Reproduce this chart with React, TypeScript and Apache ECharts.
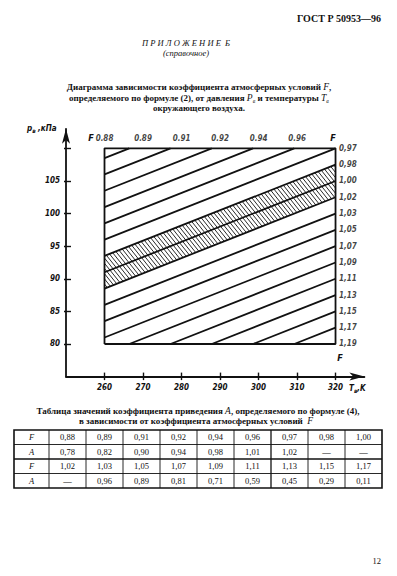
import React, { useEffect, useRef } from "react";
import * as echarts from "echarts";

// ---- diagram data ----
const F_LINES = ["0.88", "0.89", "0.91", "0.92", "0.94", "0.96", "0,97", "0,98", "1,00", "1,02", "1,03", "1,05", "1,07", "1,09", "1,11", "1,13", "1,15", "1,17", "1,19"];
// pressure (kPa) of each constant-F line at T = 260 K and T = 320 K (extended past the frame)
const P_AT_260 = [111, 108.5, 106, 103.5, 101, 98.5, 96, 93.5, 91, 88.5, 86, 83.5, 81, 78.5, 76, 73.5, 71, 68.5, 66];
const P_AT_320 = [125, 122.5, 120, 117.5, 115, 112.5, 110, 107.5, 105, 102.5, 100, 97.5, 95, 92.5, 90, 87.5, 85, 82.5, 80];
const HATCH_UPPER = 7; // F = 0,98
const HATCH_LOWER = 9; // F = 1,02
const BOX_T = [260, 320];
const BOX_P = [80, 110];
const T_TICKS = [260, 270, 280, 290, 300, 310, 320];
const P_TICKS = [80, 85, 90, 95, 100, 105, 110];
const P_LABELS = [80, 85, 90, 95, 100, 105];
const TOP_LABELS = ["0.88", "0.89", "0.91", "0.92", "0.94", "0.96"];
const TOP_LABEL_T = [260, 270, 280, 290, 300, 310];
const RIGHT_LABELS = ["0,97", "0,98", "1,00", "1,02", "1,03", "1,05", "1,07", "1,09", "1,11", "1,13", "1,15", "1,17", "1,19"];
const RIGHT_LABEL_P = [110, 107.5, 105, 102.5, 100, 97.5, 95, 92.5, 90, 87.5, 85, 82.5, 80];

// ---- table data ----
const TABLE_F1 = ["0,88", "0,89", "0,91", "0,92", "0,94", "0,96", "0,97", "0,98", "1,00"];
const TABLE_A1 = ["0,78", "0,82", "0,90", "0,94", "0,98", "1,01", "1,02", "—", "—"];
const TABLE_F2 = ["1,02", "1,03", "1,05", "1,07", "1,09", "1,11", "1,13", "1,15", "1,17"];
const TABLE_A2 = ["—", "0,96", "0,89", "0,81", "0,71", "0,59", "0,45", "0,29", "0,11"];
const TABLE_ROW_HEAD = ["F", "A", "F", "A"];

const INK = "#111";
const TECH = "'DejaVu Sans Condensed', 'DejaVu Sans', sans-serif";
const SERIF = "'Liberation Serif', 'DejaVu Serif', serif";

function lineP(i: number, T: number) {
  return P_AT_260[i] + ((P_AT_320[i] - P_AT_260[i]) * (T - BOX_T[0])) / (BOX_T[1] - BOX_T[0]);
}

function clipPoly(poly: number[][], f: (p: number[]) => number) {
  const out: number[][] = [];
  for (let i = 0; i < poly.length; i++) {
    const a = poly[i];
    const b = poly[(i + 1) % poly.length];
    const fa = f(a);
    const fb = f(b);
    if (fa >= 0) out.push(a);
    if (fa >= 0 !== fb >= 0) {
      const t = fa / (fa - fb);
      out.push([a[0] + t * (b[0] - a[0]), a[1] + t * (b[1] - a[1])]);
    }
  }
  return out;
}

function segmentInBox(i: number) {
  const s = (P_AT_320[i] - P_AT_260[i]) / (BOX_T[1] - BOX_T[0]);
  const tAt = (p: number) => BOX_T[0] + (p - P_AT_260[i]) / s;
  const t0 = Math.max(BOX_T[0], tAt(BOX_P[0]));
  const t1 = Math.min(BOX_T[1], tAt(BOX_P[1]));
  if (t1 - t0 < 0.05) return null;
  return [
    [t0, lineP(i, t0)],
    [t1, lineP(i, t1)],
  ];
}

const techLabel = {
  fontFamily: TECH,
  fontStyle: "italic" as const,
  fontWeight: "bold" as const,
  fontSize: 8,
  color: INK,
};

function buildOption() {
  const series: any[] = [];

  // hatched band between F = 0,98 and F = 1,02
  series.push({
    type: "custom",
    coordinateSystem: "cartesian2d",
    xAxisIndex: 0,
    yAxisIndex: 0,
    silent: true,
    z: 2,
    data: [[BOX_T[0], BOX_P[0]]],
    renderItem: (_params: any, api: any) => {
      let poly: number[][] = [
        [BOX_T[0], lineP(HATCH_UPPER, BOX_T[0])],
        [BOX_T[1], lineP(HATCH_UPPER, BOX_T[1])],
        [BOX_T[1], lineP(HATCH_LOWER, BOX_T[1])],
        [BOX_T[0], lineP(HATCH_LOWER, BOX_T[0])],
      ];
      poly = clipPoly(poly, (p) => BOX_P[1] - p[1]);
      poly = clipPoly(poly, (p) => p[1] - BOX_P[0]);
      const pts = poly.map((p) => api.coord(p));
      const k = 1.25;
      const vals = pts.map((p: number[]) => p[1] - k * p[0]);
      const cmin = Math.min(...vals);
      const cmax = Math.max(...vals);
      const step = 5.2;
      const children: any[] = [];
      for (let c = cmin + step / 2; c < cmax; c += step) {
        const hits: number[][] = [];
        for (let i = 0; i < pts.length; i++) {
          const a = pts[i];
          const b = pts[(i + 1) % pts.length];
          const ga = a[1] - k * a[0] - c;
          const gb = b[1] - k * b[0] - c;
          if ((ga < 0 && gb >= 0) || (ga >= 0 && gb < 0)) {
            const t = ga / (ga - gb);
            hits.push([a[0] + t * (b[0] - a[0]), a[1] + t * (b[1] - a[1])]);
          }
        }
        if (hits.length >= 2) {
          children.push({
            type: "line",
            shape: { x1: hits[0][0], y1: hits[0][1], x2: hits[1][0], y2: hits[1][1] },
            style: { stroke: INK, lineWidth: 0.9 },
          });
        }
      }
      return { type: "group", children };
    },
  });

  // constant-F lines
  F_LINES.forEach((_f, i) => {
    const seg = segmentInBox(i);
    if (!seg) return;
    series.push({
      type: "line",
      data: seg,
      symbol: "none",
      silent: true,
      z: 3,
      lineStyle: { color: INK, width: 1.8 },
    });
  });

  // frame
  series.push({
    type: "line",
    data: [
      [BOX_T[0], BOX_P[0]],
      [BOX_T[0], BOX_P[1]],
      [BOX_T[1], BOX_P[1]],
      [BOX_T[1], BOX_P[0]],
      [BOX_T[0], BOX_P[0]],
    ],
    symbol: "none",
    silent: true,
    z: 4,
    lineStyle: { color: INK, width: 1.8 },
  });

  // top labels
  series.push({
    type: "scatter",
    data: TOP_LABEL_T.map((t, i) => ({ value: [t, BOX_P[1]], name: TOP_LABELS[i] })),
    symbolSize: 1,
    itemStyle: { color: "rgba(0,0,0,0)" },
    silent: true,
    z: 5,
    label: { show: true, position: "top", distance: 5, formatter: (p: any) => p.name, ...techLabel },
  });

  // right labels
  series.push({
    type: "scatter",
    data: RIGHT_LABEL_P.map((p, i) => ({ value: [BOX_T[1], p], name: RIGHT_LABELS[i] })),
    symbolSize: 1,
    itemStyle: { color: "rgba(0,0,0,0)" },
    silent: true,
    z: 5,
    label: { show: true, position: "right", distance: 3, formatter: (p: any) => p.name, ...techLabel },
  });

  // ---- page texts and table ----
  const graphic: any[] = [];
  const txt = (x: number, y: number, text: string, font: any, align = "center", rich?: any) => {
    graphic.push({
      type: "text",
      x,
      y,
      silent: true,
      style: {
        text,
        fill: INK,
        align,
        verticalAlign: "middle",
        ...font,
        ...(rich ? { rich } : {}),
      },
    });
  };
  const serifB = { fontFamily: SERIF, fontWeight: "bold", fontSize: 9 };
  const richTitle = {
    b: { fontFamily: SERIF, fontWeight: "bold", fontSize: 9, fill: INK },
    i: { fontFamily: SERIF, fontStyle: "italic", fontSize: 9.5, fill: INK },
    s: { fontFamily: SERIF, fontStyle: "italic", fontSize: 6, fill: INK, padding: [5, 0, 0, 0] },
  };

  txt(381, 18, "ГОСТ Р 50953—96", { fontFamily: SERIF, fontWeight: "bold", fontSize: 10 }, "right");
  txt(186, 43, "П Р И Л О Ж Е Н И Е  Б", { fontFamily: SERIF, fontStyle: "italic", fontSize: 8.5 });
  txt(186, 53, "(справочное)", { fontFamily: SERIF, fontStyle: "italic", fontSize: 8.5 });

  txt(199, 87, "{b|Диаграмма зависимости коэффициента атмосферных условий }{i|F}{b|,}", serifB, "center", richTitle);
  txt(199, 98, "{b|определяемого по формуле (2), от давления }{i|P}{s|в}{b| и температуры }{i|T}{s|в}", serifB, "center", richTitle);
  txt(199, 108, "{b|окружающего воздуха.}", serifB, "center", richTitle);

  txt(198, 411, "{b|Таблица значений коэффициента приведения }{i|A}{b|, определяемого по формуле (4),}", serifB, "center", richTitle);
  txt(196, 421, "{b|в зависимости от коэффициента атмосферных условий  }{i|F}", serifB, "center", richTitle);

  // axis names and extra F marks
  const richTech = {
    a: { ...techLabel, fill: INK },
    s: { ...techLabel, fontSize: 6, fill: INK, padding: [4, 0, 0, 0] },
  };
  txt(27, 128, "{a|p}{s|в}{a| ,кПа}", techLabel, "left", richTech);
  txt(349, 388, "{a|T}{s|в}{a|,K}", techLabel, "left", richTech);
  txt(91, 138, "F", { ...techLabel, fontSize: 9 }, "center");
  txt(333, 138, "F", { ...techLabel, fontSize: 9 }, "center");
  txt(340, 358, "F", { ...techLabel, fontSize: 9 }, "center");

  // table
  const tLeft = 14;
  const tRight = 382;
  const tTop = 430;
  const rowH = 14.5;
  const headW = 35;
  const colW = (tRight - tLeft - headW) / 9;
  const rows = [TABLE_F1, TABLE_A1, TABLE_F2, TABLE_A2];
  const tBottom = tTop + rowH * rows.length;
  graphic.push({
    type: "rect",
    silent: true,
    shape: { x: tLeft, y: tTop, width: tRight - tLeft, height: tBottom - tTop },
    style: { fill: "none", stroke: INK, lineWidth: 1.6 },
  });
  for (let r = 1; r < rows.length; r++) {
    graphic.push({
      type: "line",
      silent: true,
      shape: { x1: tLeft, y1: tTop + r * rowH, x2: tRight, y2: tTop + r * rowH },
      style: { stroke: INK, lineWidth: r === 2 ? 1.3 : 0.9 },
    });
  }
  for (let c = 0; c < 9; c++) {
    const x = tLeft + headW + c * colW;
    graphic.push({
      type: "line",
      silent: true,
      shape: { x1: x, y1: tTop, x2: x, y2: tBottom },
      style: { stroke: INK, lineWidth: c === 6 ? 1.3 : 0.9 },
    });
  }
  const cellFont = { fontFamily: SERIF, fontSize: 8.5 };
  rows.forEach((row, r) => {
    const y = tTop + rowH * (r + 0.5);
    txt(tLeft + headW / 2, y, TABLE_ROW_HEAD[r], { fontFamily: SERIF, fontStyle: "italic", fontSize: 8.5 });
    row.forEach((v, c) => {
      txt(tLeft + headW + colW * (c + 0.5), y, v, cellFont);
    });
  });

  txt(381, 561, "12", { fontFamily: SERIF, fontSize: 8.5 }, "right");

  const axisInk = { color: INK, width: 1.8 };
  const labelFmt = (list: number[]) => (v: number) => (list.indexOf(v) >= 0 ? String(v) : "");

  return {
    animation: false,
    backgroundColor: "#fff",
    grid: { left: 66, top: 128.8, width: 298.4, height: 247.8, containLabel: false },
    xAxis: [
      {
        type: "value",
        min: 250,
        max: 327.5,
        interval: 10,
        position: "bottom",
        axisLine: { show: true, onZero: false, lineStyle: axisInk, symbol: ["none", "arrow"], symbolSize: [6, 15] },
        axisTick: { show: true, customValues: T_TICKS, length: 3.5, lineStyle: { color: INK, width: 1.4 } },
        axisLabel: { customValues: T_TICKS, formatter: labelFmt(T_TICKS), margin: 7, ...techLabel },
        splitLine: { show: false },
      },
      {
        type: "value",
        min: 250,
        max: 327.5,
        interval: 10,
        position: "bottom",
        axisLine: { show: false, onZero: false },
        axisTick: { show: true, inside: true, customValues: T_TICKS, length: 4, lineStyle: { color: INK, width: 1.4 } },
        axisLabel: { show: false },
        splitLine: { show: false },
      },
    ],
    yAxis: [
      {
        type: "value",
        min: 75,
        max: 113,
        interval: 5,
        position: "left",
        axisLine: { show: true, onZero: false, lineStyle: axisInk, symbol: ["none", "arrow"], symbolSize: [6, 15] },
        axisTick: { show: true, inside: true, customValues: P_TICKS, length: 5, lineStyle: { color: INK, width: 1.4 } },
        axisLabel: { customValues: P_LABELS, formatter: labelFmt(P_LABELS), margin: 6, ...techLabel },
        splitLine: { show: false },
      },
      {
        type: "value",
        min: 75,
        max: 113,
        interval: 5,
        position: "left",
        axisLine: { show: false, onZero: false },
        axisTick: { show: true, customValues: P_TICKS, length: 2, lineStyle: { color: INK, width: 1.4 } },
        axisLabel: { show: false },
        splitLine: { show: false },
      },
    ],
    series,
    graphic,
  };
}

export default function App() {
  const ref = useRef<HTMLDivElement>(null);
  useEffect(() => {
    if (!ref.current) return;
    const chart = echarts.init(ref.current, undefined, { renderer: "svg" });
    chart.setOption(buildOption() as any);
    return () => chart.dispose();
  }, []);
  return (
    <div
      ref={ref}
      style={{ position: "fixed", left: 0, top: 0, width: 397, height: 576, background: "#fff" }}
    />
  );
}
